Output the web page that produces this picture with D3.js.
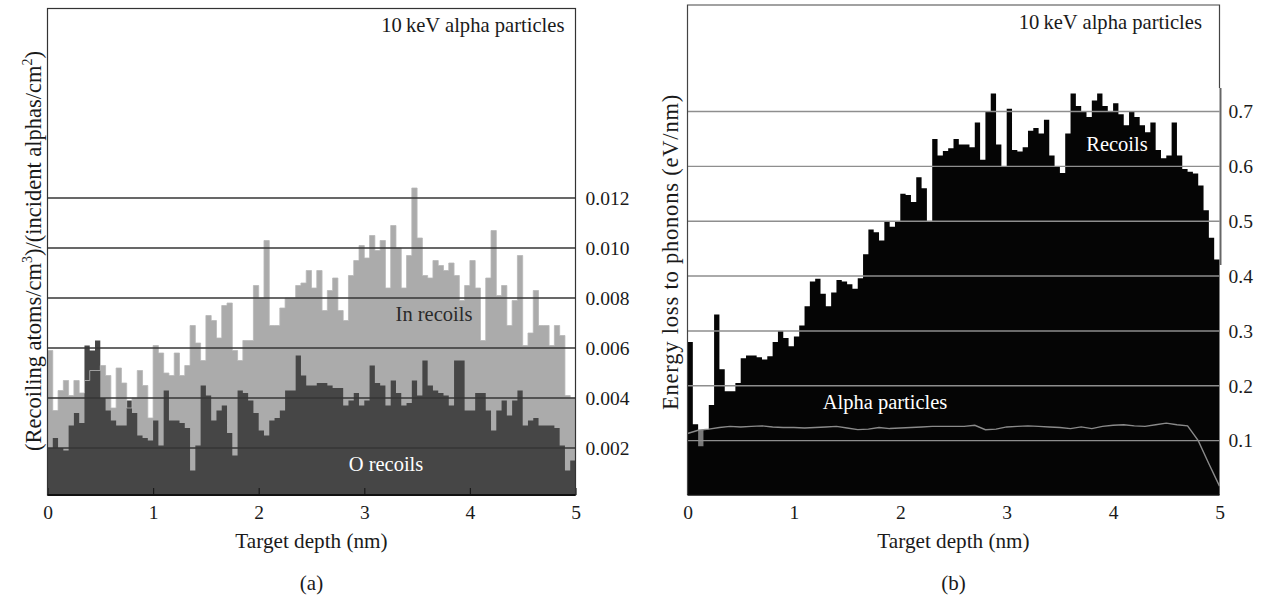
<!DOCTYPE html>
<html>
<head>
<meta charset="utf-8">
<script src="https://cdn.jsdelivr.net/npm/d3@7"></script>
<style>
body { margin: 0; background: #fff; }
svg text { font-family: "Liberation Serif", "DejaVu Serif", serif; fill: #1a1a1a; }
</style>
</head>
<body>
<div id="chart"></div>
<script>
// depth histograms, 100 bins of 0.05 nm from 0 to 5 nm
var inRecoils = [
  0.0059, 0.0035, 0.0043, 0.0047, 0.0041, 0.0047, 0.0042, 0.0047, 0.0051, 0.0051,
  0.0053, 0.0049, 0.0036, 0.0052, 0.0046, 0.0036, 0.0040, 0.0051, 0.0045, 0.0032,
  0.0061, 0.0058, 0.0050, 0.0049, 0.0058, 0.0049, 0.0053, 0.0069, 0.0062, 0.0055,
  0.0073, 0.0071, 0.0064, 0.0077, 0.0078, 0.0059, 0.0055, 0.0063, 0.0063, 0.0085,
  0.0080, 0.0103, 0.0069, 0.0069, 0.0076, 0.0080, 0.0080, 0.0085, 0.0086, 0.0091,
  0.0084, 0.0091, 0.0075, 0.0083, 0.0088, 0.0075, 0.0071, 0.0089, 0.0095, 0.0101,
  0.0096, 0.0105, 0.0099, 0.0103, 0.0084, 0.0109, 0.0100, 0.0084, 0.0097, 0.0124,
  0.0104, 0.0089, 0.0088, 0.0095, 0.0093, 0.0091, 0.0094, 0.0089, 0.0079, 0.0085,
  0.0095, 0.0084, 0.0063, 0.0088, 0.0107, 0.0081, 0.0085, 0.0069, 0.0079, 0.0097,
  0.0061, 0.0066, 0.0083, 0.0069, 0.0069, 0.0061, 0.0069, 0.0065, 0.0041, 0.0040
];

var oRecoils = [
  0.0020, 0.0024, 0.0020, 0.0019, 0.0029, 0.0034, 0.0030, 0.0061, 0.0059, 0.0063,
  0.0040, 0.0035, 0.0031, 0.0029, 0.0029, 0.0039, 0.0034, 0.0025, 0.0024, 0.0023,
  0.0031, 0.0021, 0.0043, 0.0031, 0.0031, 0.0030, 0.0028, 0.0011, 0.0021, 0.0045,
  0.0041, 0.0031, 0.0035, 0.0037, 0.0026, 0.0017, 0.0043, 0.0042, 0.0039, 0.0034,
  0.0027, 0.0025, 0.0031, 0.0032, 0.0035, 0.0043, 0.0043, 0.0057, 0.0049, 0.0045,
  0.0045, 0.0046, 0.0046, 0.0045, 0.0044, 0.0044, 0.0037, 0.0039, 0.0042, 0.0037,
  0.0039, 0.0053, 0.0046, 0.0045, 0.0037, 0.0047, 0.0042, 0.0037, 0.0038, 0.0047,
  0.0041, 0.0055, 0.0045, 0.0043, 0.0042, 0.0041, 0.0037, 0.0055, 0.0055, 0.0035,
  0.0035, 0.0042, 0.0042, 0.0035, 0.0027, 0.0035, 0.0039, 0.0033, 0.0039, 0.0043,
  0.0029, 0.0031, 0.0032, 0.0029, 0.0029, 0.0029, 0.0028, 0.0021, 0.0011, 0.0015
];

var recoilPhonons = [
  0.280, 0.130, 0.090, 0.120, 0.165, 0.330, 0.230, 0.190, 0.190, 0.205,
  0.250, 0.255, 0.255, 0.252, 0.248, 0.254, 0.280, 0.300, 0.287, 0.272,
  0.290, 0.310, 0.345, 0.390, 0.395, 0.368, 0.345, 0.370, 0.393, 0.390,
  0.385, 0.377, 0.396, 0.440, 0.485, 0.480, 0.465, 0.500, 0.490, 0.500,
  0.550, 0.548, 0.535, 0.580, 0.560, 0.500, 0.650, 0.620, 0.628, 0.633,
  0.650, 0.640, 0.640, 0.635, 0.680, 0.612, 0.700, 0.733, 0.640, 0.600,
  0.705, 0.630, 0.627, 0.635, 0.665, 0.670, 0.660, 0.685, 0.620, 0.600,
  0.588, 0.660, 0.733, 0.710, 0.700, 0.690, 0.720, 0.733, 0.710, 0.700,
  0.715, 0.695, 0.675, 0.700, 0.690, 0.675, 0.662, 0.680, 0.630, 0.615,
  0.620, 0.680, 0.620, 0.595, 0.590, 0.587, 0.565, 0.520, 0.470, 0.430
];

// alpha particle phonon loss, read every 0.1 nm
var alphaDepth = [
  0.0, 0.1, 0.2, 0.3, 0.4, 0.5, 0.6, 0.7, 0.8, 0.9,
  1.0, 1.1, 1.2, 1.3, 1.4, 1.5, 1.6, 1.7, 1.8, 1.9,
  2.0, 2.1, 2.2, 2.3, 2.4, 2.5, 2.6, 2.7, 2.8, 2.9,
  3.0, 3.1, 3.2, 3.3, 3.4, 3.5, 3.6, 3.7, 3.8, 3.9,
  4.0, 4.1, 4.2, 4.3, 4.4, 4.5, 4.6, 4.7, 4.8, 4.9, 5.0
];
var alphaPhonons = [
  0.113, 0.119, 0.121, 0.124, 0.126, 0.125, 0.126, 0.127, 0.125, 0.124,
  0.124, 0.123, 0.124, 0.125, 0.126, 0.123, 0.120, 0.121, 0.124, 0.122,
  0.123, 0.124, 0.125, 0.126, 0.126, 0.126, 0.126, 0.128, 0.120, 0.121,
  0.125, 0.126, 0.127, 0.126, 0.125, 0.124, 0.122, 0.125, 0.122, 0.126,
  0.128, 0.129, 0.127, 0.126, 0.129, 0.132, 0.129, 0.127, 0.100, 0.058, 0.017
];

var depthTicks = [0, 1, 2, 3, 4, 5];
var ticksA = [0.002, 0.004, 0.006, 0.008, 0.010, 0.012];
var ticksB = [0.1, 0.2, 0.3, 0.4, 0.5, 0.6, 0.7];

var svg = d3.select("#chart").append("svg")
    .attr("width", 1263)
    .attr("height", 596);

var bottom = 495;

// turn a histogram into [left edge, value] pairs for a step area
function steps (values) {
    var w = 5 / values.length;
    var pts = values.map(function (v, i) { return [i * w, v]; });
    pts.push([5, values[values.length - 1]]);
    return pts;
}

/* ---------- panel (a) ---------- */
var xA = d3.scaleLinear().domain([0, 5]).range([47.5, 575.5]),
    yA = d3.scaleLinear().domain([0, 0.012]).range([498, 198]);

var areaA = d3.area()
    .curve(d3.curveStepAfter)
    .x(function (d) { return xA(d[0]); })
    .y0(bottom)
    .y1(function (d) { return yA(d[1]); });

var lineA = d3.line()
    .curve(d3.curveStepAfter)
    .x(function (d) { return xA(d[0]); })
    .y(function (d) { return yA(d[1]); });

var gA = svg.append("g");

gA.append("path")
    .attr("d", areaA(steps(inRecoils)))
    .attr("fill", "#ababab");

gA.append("path")
    .attr("d", areaA(steps(oRecoils)))
    .attr("fill", "#464646");

// In outline shows through where O is higher
gA.append("path")
    .attr("d", lineA(steps(inRecoils)))
    .attr("fill", "none")
    .attr("stroke", "#b8b8b8")
    .attr("stroke-width", 0.8);

gA.selectAll(".gridA")
    .data(ticksA)
    .enter().append("line")
    .attr("class", "gridA")
    .attr("x1", xA(0))
    .attr("x2", xA(5))
    .attr("y1", function (d) { return yA(d); })
    .attr("y2", function (d) { return yA(d); })
    .attr("stroke", "#363636")
    .attr("stroke-width", 1.4);

gA.append("g")
    .attr("transform", "translate(" + xA(5) + ",0)")
    .call(d3.axisRight(yA).tickValues(ticksA).tickSize(0).tickPadding(10).tickFormat(d3.format(".3f")))
    .call(function (g) { g.select(".domain").remove(); })
    .selectAll("text")
    .attr("font-size", 19.5);

gA.append("g")
    .attr("transform", "translate(0," + bottom + ")")
    .call(d3.axisBottom(xA).tickValues(depthTicks).tickSizeInner(-7).tickSizeOuter(0).tickPadding(10).tickFormat(d3.format("d")))
    .call(function (g) { g.select(".domain").remove(); })
    .call(function (g) {
        g.selectAll(".tick line").attr("stroke", "#1a1a1a").attr("stroke-width", 1.2);
    })
    .selectAll("text")
    .attr("font-size", 19.5);

// frame
gA.append("rect")
    .attr("x", xA(0))
    .attr("y", 8.5)
    .attr("width", xA(5) - xA(0))
    .attr("height", bottom - 8.5)
    .attr("fill", "none")
    .attr("stroke", "#333")
    .attr("stroke-width", 1.2);

gA.append("line")
    .attr("x1", xA(0)).attr("x2", xA(5))
    .attr("y1", bottom).attr("y2", bottom)
    .attr("stroke", "#111").attr("stroke-width", 2);

gA.append("text")
    .attr("x", 564.5).attr("y", 32)
    .attr("text-anchor", "end")
    .attr("font-size", 20.6)
    .text("10\u2009keV alpha particles");

gA.append("text")
    .attr("x", 434).attr("y", 321)
    .attr("text-anchor", "middle")
    .attr("font-size", 20.5)
    .style("fill", "#2a2a2a")
    .text("In recoils");

gA.append("text")
    .attr("x", 386).attr("y", 471)
    .attr("text-anchor", "middle")
    .attr("font-size", 20.5)
    .style("fill", "#fff")
    .text("O recoils");

var labelA = gA.append("text")
    .attr("transform", "translate(41,251)rotate(-90)")
    .attr("text-anchor", "middle")
    .attr("font-size", 22.5);
labelA.append("tspan").text("(Recoiling atoms/cm");
labelA.append("tspan").attr("dy", -9).attr("font-size", 14).text("3");
labelA.append("tspan").attr("dy", 9).text(")/(incident alphas/cm");
labelA.append("tspan").attr("dy", -9).attr("font-size", 14).text("2");
labelA.append("tspan").attr("dy", 9).text(")");

gA.append("text")
    .attr("x", (xA(0) + xA(5)) / 2).attr("y", 548)
    .attr("text-anchor", "middle")
    .attr("font-size", 21.2)
    .text("Target depth (nm)");

gA.append("text")
    .attr("x", (xA(0) + xA(5)) / 2).attr("y", 590)
    .attr("text-anchor", "middle")
    .attr("font-size", 21)
    .text("(a)");

/* ---------- panel (b) ---------- */
var xB = d3.scaleLinear().domain([0, 5]).range([687.5, 1219.5]),
    yB = d3.scaleLinear().domain([0, 0.7]).range([495.5, 111.5]);

var areaB = d3.area()
    .curve(d3.curveStepAfter)
    .x(function (d) { return xB(d[0]); })
    .y0(bottom)
    .y1(function (d) { return yB(d[1]); });

var alphaPts = alphaDepth.map(function (d, i) { return [d, alphaPhonons[i]]; });

var gB = svg.append("g");

// alpha area only shows where the recoils dip below it
gB.append("path")
    .attr("d", d3.area()
        .x(function (d) { return xB(d[0]); })
        .y0(bottom)
        .y1(function (d) { return yB(d[1]); })(alphaPts))
    .attr("fill", "#7a7a7a");

gB.append("path")
    .attr("d", areaB(steps(recoilPhonons)))
    .attr("fill", "#050505");

gB.selectAll(".gridB")
    .data(ticksB)
    .enter().append("line")
    .attr("class", "gridB")
    .attr("x1", xB(0))
    .attr("x2", xB(5))
    .attr("y1", function (d) { return yB(d); })
    .attr("y2", function (d) { return yB(d); })
    .attr("stroke", "#8e8e8e")
    .attr("stroke-width", 1.4);

gB.append("path")
    .attr("d", d3.line()
        .x(function (d) { return xB(d[0]); })
        .y(function (d) { return yB(d[1]); })(alphaPts))
    .attr("fill", "none")
    .attr("stroke", "#8a8a8a")
    .attr("stroke-width", 1.4);

gB.append("g")
    .attr("transform", "translate(" + xB(5) + ",0)")
    .call(d3.axisRight(yB).tickValues(ticksB).tickSize(0).tickPadding(9).tickFormat(d3.format(".1f")))
    .call(function (g) { g.select(".domain").remove(); })
    .selectAll("text")
    .attr("font-size", 19.5);

gB.append("g")
    .attr("transform", "translate(0," + bottom + ")")
    .call(d3.axisBottom(xB).tickValues(depthTicks).tickSize(0).tickPadding(10).tickFormat(d3.format("d")))
    .call(function (g) { g.select(".domain").remove(); })
    .selectAll("text")
    .attr("dy", "0.71em")
    .attr("font-size", 19.5);

// frame: top and left, right edge broken like the original
gB.append("path")
    .attr("d", "M" + xB(5) + ",88V5H" + xB(0) + "V" + bottom)
    .attr("fill", "none")
    .attr("stroke", "#444")
    .attr("stroke-width", 1.2);

gB.append("line")
    .attr("x1", xB(5) + 1).attr("x2", xB(5) + 1)
    .attr("y1", 88).attr("y2", 265)
    .attr("stroke", "#666").attr("stroke-width", 2);

gB.append("line")
    .attr("x1", xB(0)).attr("x2", xB(5))
    .attr("y1", bottom).attr("y2", bottom)
    .attr("stroke", "#111").attr("stroke-width", 1.5);

gB.append("text")
    .attr("x", 1202).attr("y", 29)
    .attr("text-anchor", "end")
    .attr("font-size", 20.6)
    .text("10\u2009keV alpha particles");

gB.append("text")
    .attr("x", 1117).attr("y", 151)
    .attr("text-anchor", "middle")
    .attr("font-size", 20.5)
    .style("fill", "#fff")
    .text("Recoils");

gB.append("text")
    .attr("x", 885).attr("y", 409)
    .attr("text-anchor", "middle")
    .attr("font-size", 20.5)
    .style("fill", "#fff")
    .text("Alpha particles");

gB.append("text")
    .attr("transform", "translate(678,252)rotate(-90)")
    .attr("text-anchor", "middle")
    .attr("font-size", 22.5)
    .attr("letter-spacing", 0.8)
    .text("Energy loss to phonons (eV/nm)");

gB.append("text")
    .attr("x", (xB(0) + xB(5)) / 2).attr("y", 548)
    .attr("text-anchor", "middle")
    .attr("font-size", 21.2)
    .text("Target depth (nm)");

gB.append("text")
    .attr("x", (xB(0) + xB(5)) / 2).attr("y", 590)
    .attr("text-anchor", "middle")
    .attr("font-size", 21)
    .text("(b)");
</script>
</body>
</html>
